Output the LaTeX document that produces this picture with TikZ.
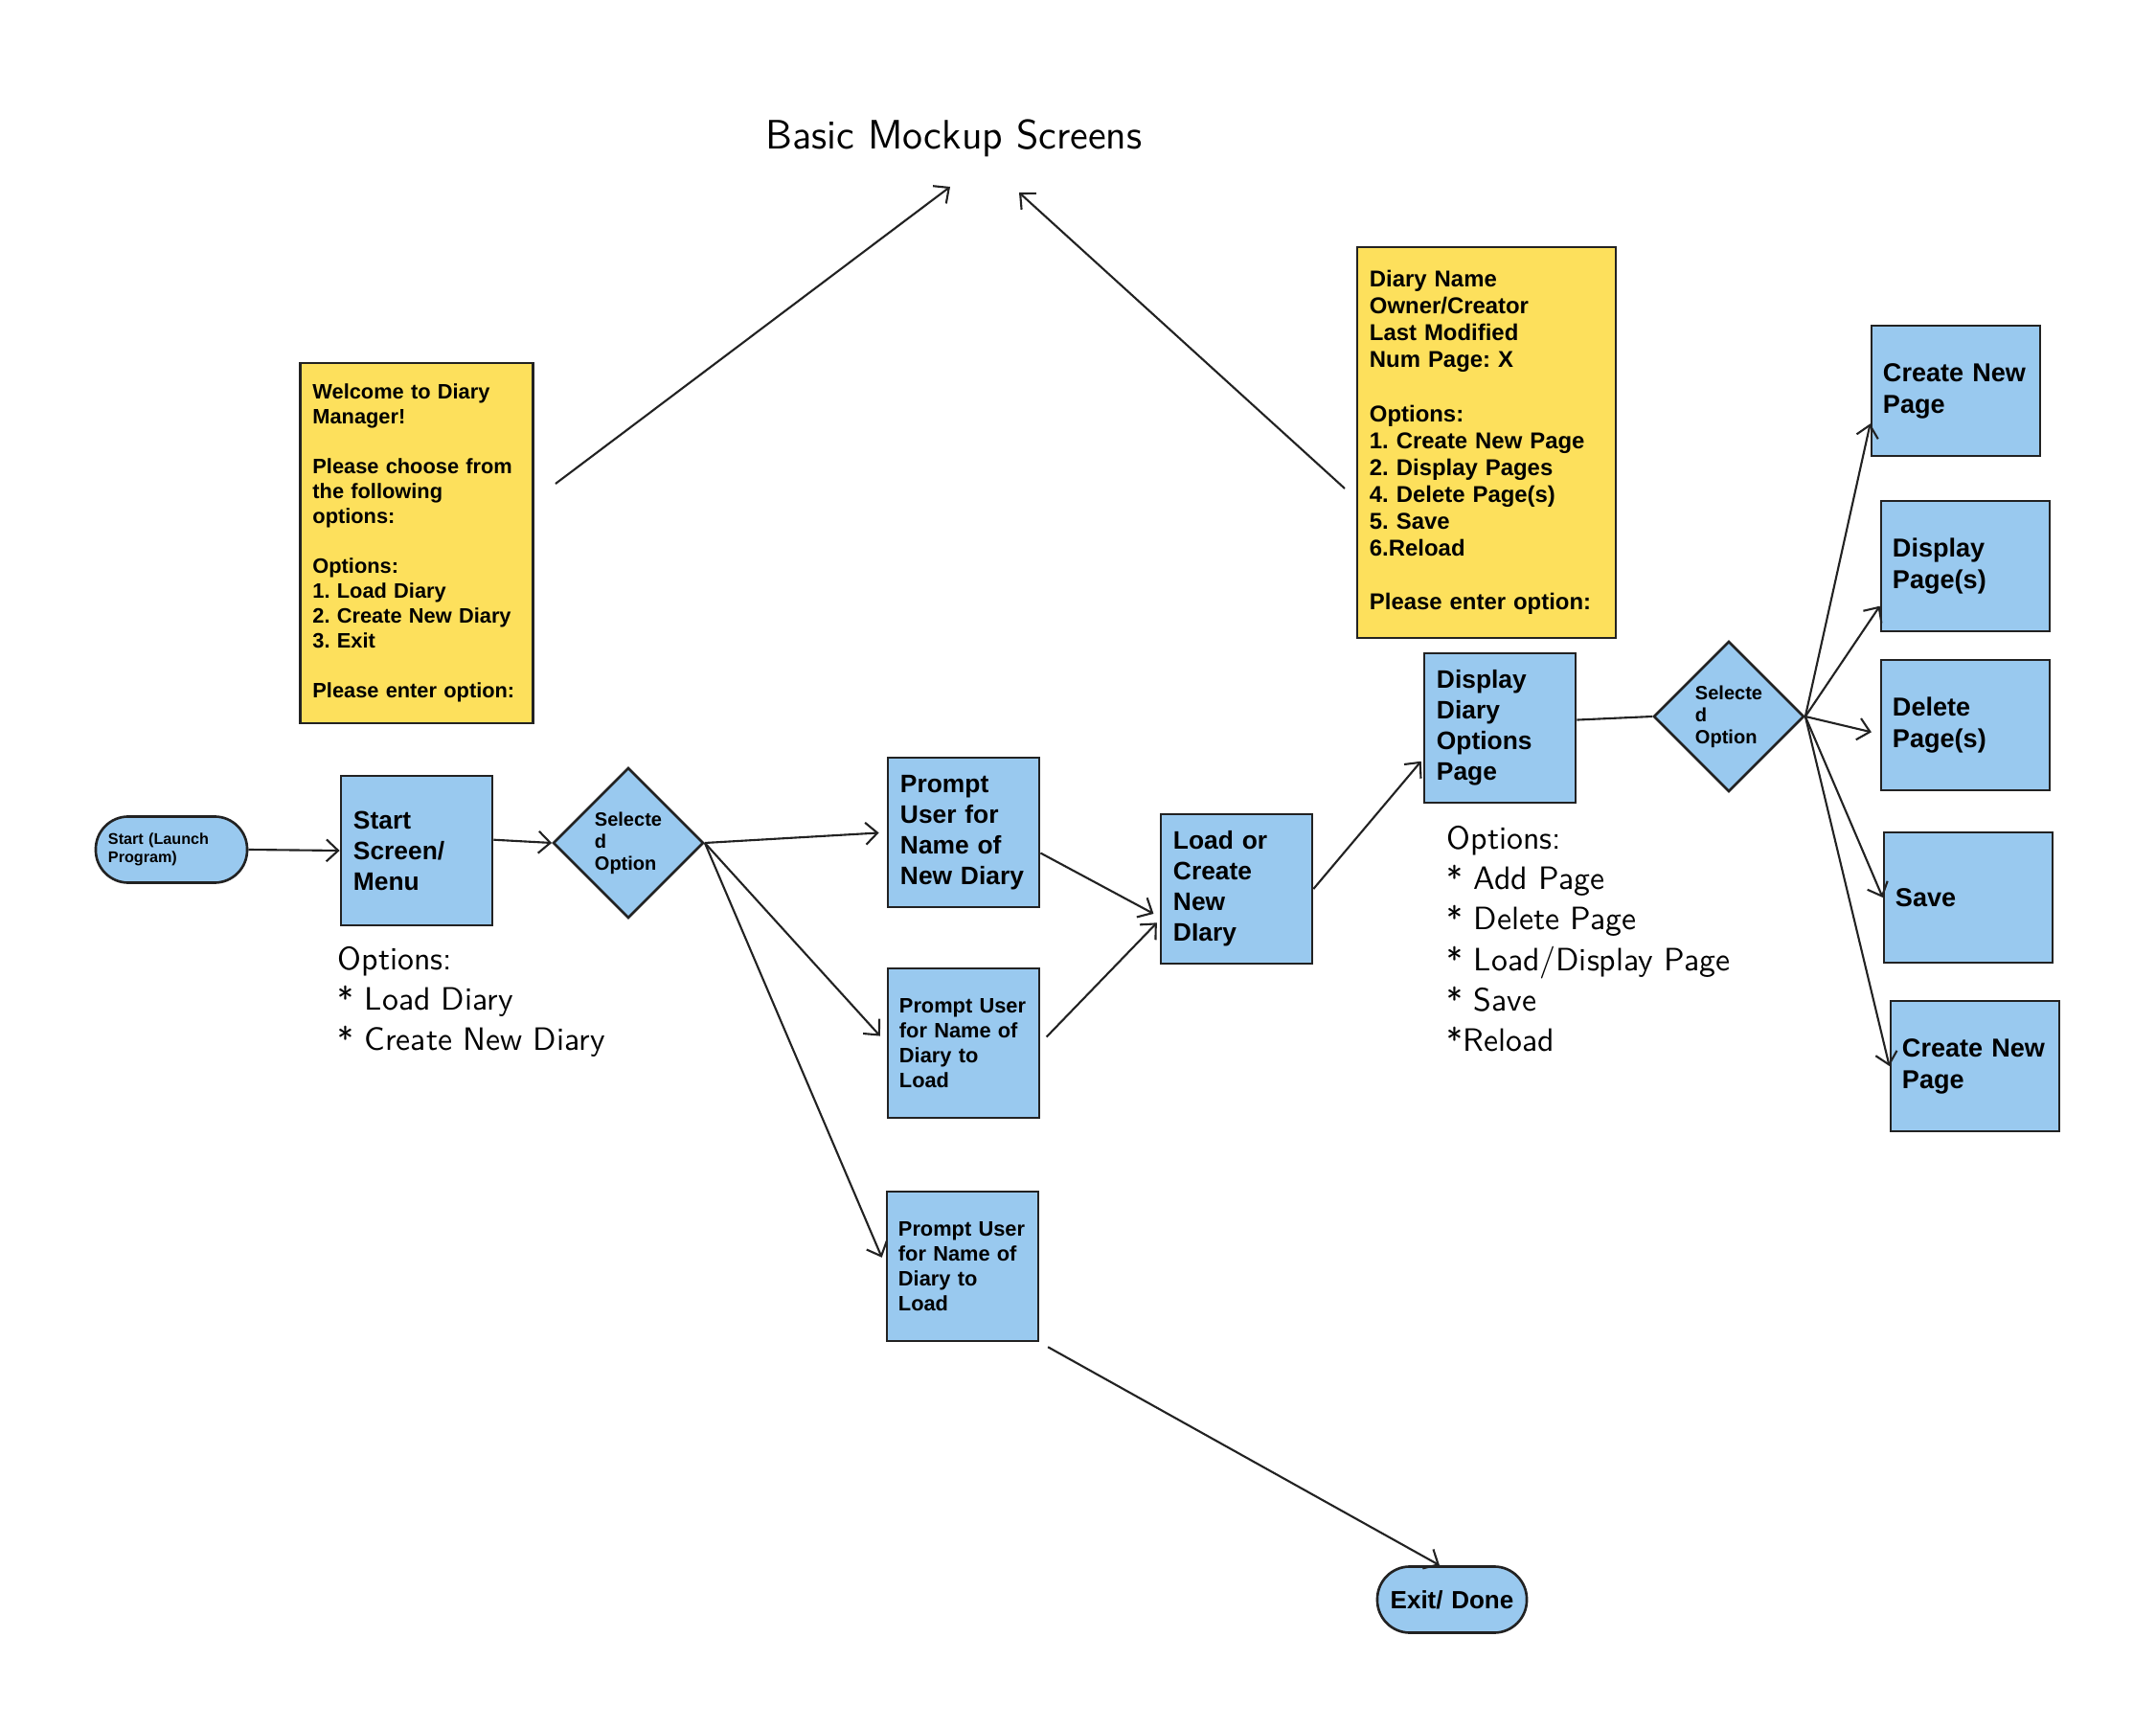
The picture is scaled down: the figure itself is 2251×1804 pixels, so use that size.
\documentclass[tikz,border=0pt]{standalone}
\usepackage{fontspec}
\setmainfont{Liberation Sans}
\usepackage{xcolor}
\usetikzlibrary{arrows, arrows.meta}
\usetikzlibrary{positioning}
\usetikzlibrary{shapes.geometric}
\frenchspacing

\definecolor{boxblue}{HTML}{99C9EF}
\definecolor{noteyellow}{HTML}{FDE05C}
\definecolor{edgegray}{HTML}{222222}

\tikzset{
  screen/.style={draw=edgegray, line width=0.75pt, fill=boxblue, align=left,
    inner ysep=0pt, inner xsep=0.13cm, text width=1.32cm, minimum height=1.56cm,
    font=\bfseries\fontsize{7.5}{9.1}\selectfont},
  smallscreen/.style={screen, inner xsep=0.12cm, text width=1.34cm,
    font=\bfseries\fontsize{6.2}{7.4}\selectfont},
  pagebox/.style={screen, inner xsep=0.12cm, text width=1.52cm, minimum height=1.36cm,
    font=\bfseries\fontsize{7.7}{9.4}\selectfont},
  choice/.style={diamond, draw=edgegray, line width=0.75pt, fill=boxblue, inner sep=0pt,
    minimum width=1.57cm, minimum height=1.57cm, align=left,
    font=\bfseries\fontsize{5.7}{6.5}\selectfont},
  terminal/.style={draw=edgegray, line width=0.75pt, fill=boxblue, rounded corners=0.34cm,
    minimum height=0.69cm, inner ysep=0pt},
  note/.style={draw=edgegray, line width=0.75pt, fill=noteyellow, align=left,
    inner xsep=0.13cm, inner ysep=0pt},
  hand/.style={font=\sffamily\fontsize{9.6}{12}\selectfont, align=left, inner sep=0pt},
  flow/.style={->, >={Straight Barb[length=3.5pt,width=6.5pt]}, line width=0.6pt, draw=edgegray},
}

\begin{document}
\begin{tikzpicture}[x=0.01cm, y=-0.01cm]
  \useasboundingbox (0,0) rectangle (2251,1804);

  % title and mockup screens
  \node[hand, font=\sffamily\fontsize{12.2}{15}\selectfont] (title) at (996,144) {Basic Mockup Screens};
  \node[note, text width=2.17cm, minimum height=3.76cm, font=\bfseries\fontsize{6.2}{7.4}\selectfont] (welcome) at (435,567)
    {Welcome to Diary\\Manager!\\[7.4pt]Please choose from\\the following\\options:\\[7.4pt]Options:\\1. Load Diary\\2. Create New Diary\\3. Exit\\[7.4pt]Please enter option:};
  \node[note, text width=2.44cm, minimum height=4.08cm, font=\bfseries\fontsize{6.8}{8}\selectfont] (info) at (1552,462)
    {Diary Name\\Owner/Creator\\Last Modified\\Num Page: X\\[8pt]Options:\\1. Create New Page\\2. Display Pages\\4. Delete Page(s)\\5. Save\\6.Reload\\[8pt]Please enter option:};
  \coordinate (welcomeout) at (580,505);
  \coordinate (infoout) at (1404,510);
  \coordinate (titleleft) at (992,195);
  \coordinate (titleright) at (1064,201);

  % flow nodes
  \node[terminal, text width=1.32cm, inner xsep=0.13cm, align=left, font=\bfseries\fontsize{4.6}{5.3}\selectfont] (start) at (179,887) {Start (Launch\\Program)};
  \node[screen] (screen) at (435,888) {Start\\Screen/\\Menu};
  \node[choice] (sel1) at (656,880) {Selecte\\d\\Option};
  \node[hand, anchor=west] (menuopts) at (352,1046) {Options:\\* Load Diary\\* Create New Diary};
  \node[screen] (newname) at (1006,869) {Prompt\\User for\\Name of\\New Diary};
  \node[smallscreen] (loadname) at (1006,1089) {Prompt User\\for Name of\\Diary to\\Load};
  \node[smallscreen] (loadnametwo) at (1005,1322) {Prompt User\\for Name of\\Diary to\\Load};
  \node[screen] (loadcreate) at (1291,928) {Load or\\Create\\New\\DIary};
  \node[screen] (display) at (1566,760) {Display\\Diary\\Options\\Page};
  \node[hand, anchor=west] (diaryopts) at (1510,980) {Options:\\* Add Page\\* Delete Page\\* Load/Display Page\\* Save\\*Reload};
  \node[choice] (sel2) at (1805,748) {Selecte\\d\\Option};
  \node[pagebox] (pgnew) at (2042,408) {Create New\\Page};
  \node[pagebox] (pgshow) at (2052,591) {Display\\Page(s)};
  \node[pagebox] (pgdel) at (2052,757) {Delete\\Page(s)};
  \node[pagebox] (pgsave) at (2055,937) {Save};
  \node[pagebox] (pgnewtwo) at (2062,1113) {Create New\\Page};
  \node[terminal, text width=1.34cm, inner xsep=0.11cm, align=center, font=\bfseries\fontsize{7.4}{8.5}\selectfont] (exit) at (1516,1670) {Exit/ Done};

  % draw arrows
  \draw[flow] (welcomeout) -- (titleleft);
  \draw[flow] (infoout) -- (titleright);
  \draw[flow] (start.east) -- (screen.west);
  \draw[flow] (screen.8) -- (sel1.west);
  \draw[flow, shorten >=0.08cm] (sel1.east) -- (newname.west);
  \draw[flow, shorten >=0.1cm] (sel1.east) -- (loadname.west);
  \draw[flow, shorten >=0.1cm] (sel1.east) -- (loadnametwo.west);
  \draw[flow, shorten >=0.07cm] (newname.-15) -- (loadcreate.200);
  \draw[flow, shorten <=0.09cm, shorten >=0.04cm] (loadname.east) -- (loadcreate.202);
  \draw[flow, shorten >=0.03cm] (loadcreate.east) -- (display.202);
  \draw[line width=0.6pt, draw=edgegray] (display.6) -- (sel2.west);
  \draw[flow] (sel2.east) -- (pgnew.201);
  \draw[flow] (sel2.east) -- (pgshow.205);
  \draw[flow, shorten >=0.09cm] (sel2.east) -- (pgdel.186);
  \draw[flow] (sel2.east) -- (pgsave.west);
  \draw[flow] (sel2.east) -- (pgnewtwo.west);
  \draw[flow, shorten <=0.1cm] (loadnametwo.south east) -- ([xshift=-0.13cm]exit.north);
\end{tikzpicture}
\end{document}
